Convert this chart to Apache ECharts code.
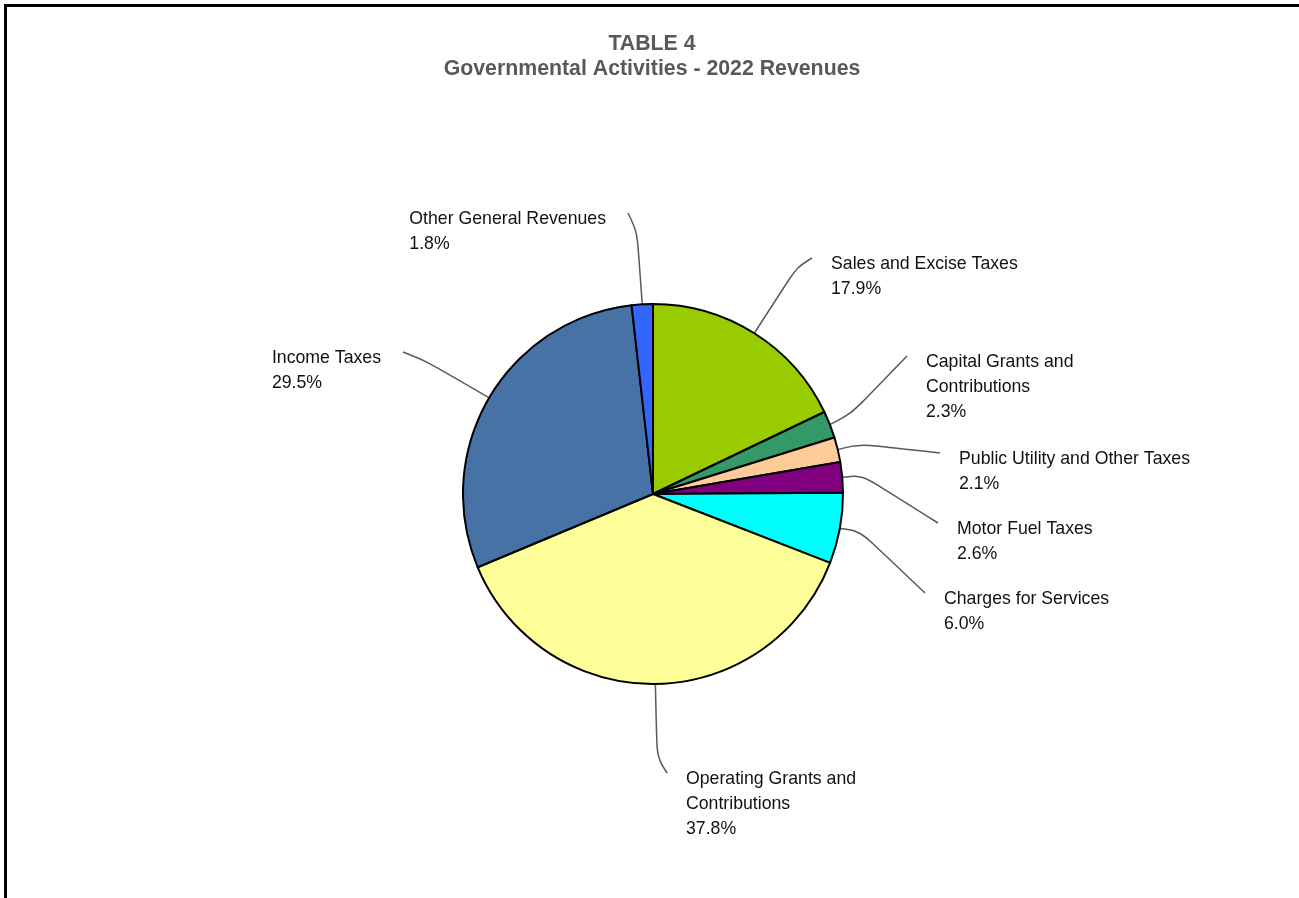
<!DOCTYPE html>
<html>
<head>
<meta charset="utf-8">
<title>Governmental Activities - 2022 Revenues</title>
<script src="https://cdn.jsdelivr.net/npm/echarts@6/dist/echarts.min.js"></script>
<style>
  html, body { margin: 0; padding: 0; background: #fff; }
  #chart { width: 1299px; height: 898px; }
</style>
</head>
<body>
<div id="chart"></div>
<script>
// Revenue sources (share of total, %), listed clockwise from 12 o'clock
const categories = [
  'Sales and Excise Taxes',
  'Capital Grants and\nContributions',
  'Public Utility and Other Taxes',
  'Motor Fuel Taxes',
  'Charges for Services',
  'Operating Grants and\nContributions',
  'Income Taxes',
  'Other General Revenues'
];
const shares = [17.9, 2.3, 2.1, 2.6, 6.0, 37.8, 29.5, 1.8];
const sliceColors = ['#99CC00', '#339966', '#FFCC99', '#800080', '#00FFFF', '#FFFF99', '#4672A6', '#3366FF'];

// Leader line geometry: bend point and end point for each label, plus the side the text sits on
const leaderBends = [[797, 267], [851, 414], [860, 444], [862, 475], [860, 531], [657, 757], [426, 361], [637, 231]];
const leaderEnds  = [[812, 258], [907, 356], [940, 453], [938, 523], [925, 593], [667, 773], [403, 352], [628, 213]];
const labelSides  = ['right', 'right', 'right', 'right', 'right', 'right', 'left', 'left'];

const LABEL_FONT = "'Liberation Sans Narrow', 'Arial Narrow', 'Liberation Sans', Arial, sans-serif";

const chart = echarts.init(document.getElementById('chart'), null, { renderer: 'canvas' });

chart.setOption({
  backgroundColor: '#ffffff',
  animation: false,
  title: {
    text: 'TABLE 4\nGovernmental Activities - 2022 Revenues',
    left: 647,
    textAlign: 'center',
    top: 27,
    textStyle: {
      fontFamily: "'Liberation Sans', Arial, sans-serif",
      fontSize: 21.3,
      fontWeight: 'bold',
      color: '#595959',
      lineHeight: 25
    }
  },
  graphic: [
    // frame lines along the top and left edges
    { type: 'rect', shape: { x: 4, y: 4, width: 1295, height: 3 }, style: { fill: '#000' } },
    { type: 'rect', shape: { x: 4, y: 4, width: 3, height: 894 }, style: { fill: '#000' } }
  ],
  series: [{
    type: 'pie',
    center: [653, 494],
    radius: 190,
    startAngle: 90,
    clockwise: true,
    avoidLabelOverlap: false,
    data: categories.map((name, i) => ({
      name: name,
      value: shares[i],
      itemStyle: { color: sliceColors[i] }
    })),
    itemStyle: { borderColor: '#000', borderWidth: 2 },
    emphasis: { disabled: true },
    label: {
      show: true,
      position: 'outside',
      formatter: p => p.name + '\n' + p.value.toFixed(1) + '%',
      fontFamily: LABEL_FONT,
      fontSize: 17.7,
      lineHeight: 25,
      color: '#111'
    },
    labelLine: {
      show: true,
      smooth: 0.35,
      lineStyle: { color: '#595959', width: 1.5 }
    },
    labelLayout: function (params) {
      const i = params.dataIndex;
      const end = leaderEnds[i];
      const start = params.labelLinePoints ? params.labelLinePoints[0] : end;
      const x = labelSides[i] === 'right'
        ? end[0] + 19
        : end[0] - 22 - params.labelRect.width;
      return {
        x: x,
        y: end[1] - 6.5,
        align: 'left',
        verticalAlign: 'top',
        labelLinePoints: [start, leaderBends[i], end]
      };
    }
  }]
});
</script>
</body>
</html>
